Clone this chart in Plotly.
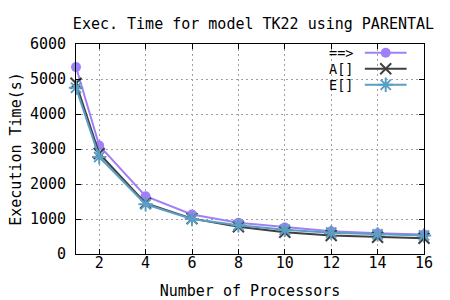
import plotly.graph_objects as go

processors = [1, 2, 4, 6, 8, 10, 12, 14, 16]
implies_vals = [5340, 3100, 1650, 1130, 890, 760, 650, 590, 560]
all_vals = [4880, 2870, 1450, 1010, 780, 620, 530, 480, 450]
exists_vals = [4750, 2770, 1420, 1000, 820, 690, 610, 560, 530]
series_names = ["==>", "A[]", "E[]"]
x_ticks = [2, 4, 6, 8, 10, 12, 14, 16]
y_ticks = [0, 1000, 2000, 3000, 4000, 5000, 6000]

colors = ["#a080f8", "#404040", "#5b9ec4"]
symbols = ["circle", "x-thin-open", "asterisk-open"]
sizes = [10, 11, 12]
FONT = "DejaVu Sans Mono"
FS = 15

fig = go.Figure()
for vals, name, c, s, sz in zip([implies_vals, all_vals, exists_vals], series_names, colors, symbols, sizes):
    mk = dict(symbol=s, size=sz, color=c)
    if s != "circle":
        mk["line"] = dict(width=2, color=c)
    fig.add_trace(go.Scatter(x=processors, y=vals, mode="lines+markers", name=name,
                             line=dict(color=c, width=2), marker=mk, showlegend=False,
                             cliponaxis=False))

# custom gnuplot-style legend (text left, key right)
leg_rows = [0.958, 0.882, 0.806]
for name, c, s, sz, yr in zip(series_names, colors, symbols, sizes, leg_rows):
    mk = dict(symbol=s, size=sz, color=c)
    if s != "circle":
        mk["line"] = dict(width=2, color=c)
    fig.add_trace(go.Scatter(x=[0.830, 0.89, 0.950], y=[yr, yr, yr], xaxis="x2", yaxis="y2",
                             mode="lines", line=dict(color=c, width=2), showlegend=False,
                             hoverinfo="skip"))
    fig.add_trace(go.Scatter(x=[0.89], y=[yr], xaxis="x2", yaxis="y2",
                             mode="markers", marker=mk, showlegend=False, hoverinfo="skip"))
    fig.add_annotation(x=0.799, y=yr, xref="x2", yref="y2", text=name, showarrow=False,
                       xanchor="right", yanchor="middle", borderpad=0,
                       font=dict(family=FONT, size=13.5, color="black"))

axis_common = dict(showline=True, linecolor="black", linewidth=1, mirror="allticks",
                   ticks="inside", ticklen=5, tickcolor="black", showgrid=True,
                   gridcolor="#a0a0a0", griddash="2px,3px", gridwidth=1, zeroline=False,
                   automargin=False,
                   tickfont=dict(family=FONT, size=FS, color="black"))

fig.update_layout(
    width=450, height=300,
    margin=dict(l=76, r=26, t=44, b=46),
    paper_bgcolor="white", plot_bgcolor="white",
    title=dict(text="Exec. Time for model TK22 using PARENTAL", x=0.5633, xanchor="center",
               y=0.922, yanchor="middle", font=dict(family=FONT, size=FS, color="black")),
    xaxis=dict(range=[1, 16], tickvals=x_ticks, ticktext=[str(v) for v in x_ticks],
               ticklabelstandoff=-5,
               title=dict(text="Number of Processors", font=dict(family=FONT, size=FS, color="black"),
                          standoff=14),
               **axis_common),
    yaxis=dict(range=[0, 6000], tickvals=y_ticks, ticktext=[str(v) for v in y_ticks],
               ticklabelstandoff=6,
               title=dict(text="Execution Time(s)", font=dict(family=FONT, size=FS, color="black"),
                          standoff=4),
               **axis_common),
    xaxis2=dict(overlaying="x", range=[0, 1], visible=False),
    yaxis2=dict(overlaying="y", range=[0, 1], visible=False),
    showlegend=False,
)

fig.write_html("out.html", config={"displayModeBar": False},
               post_script="document.body.style.margin='0';document.body.style.overflow='hidden';")
